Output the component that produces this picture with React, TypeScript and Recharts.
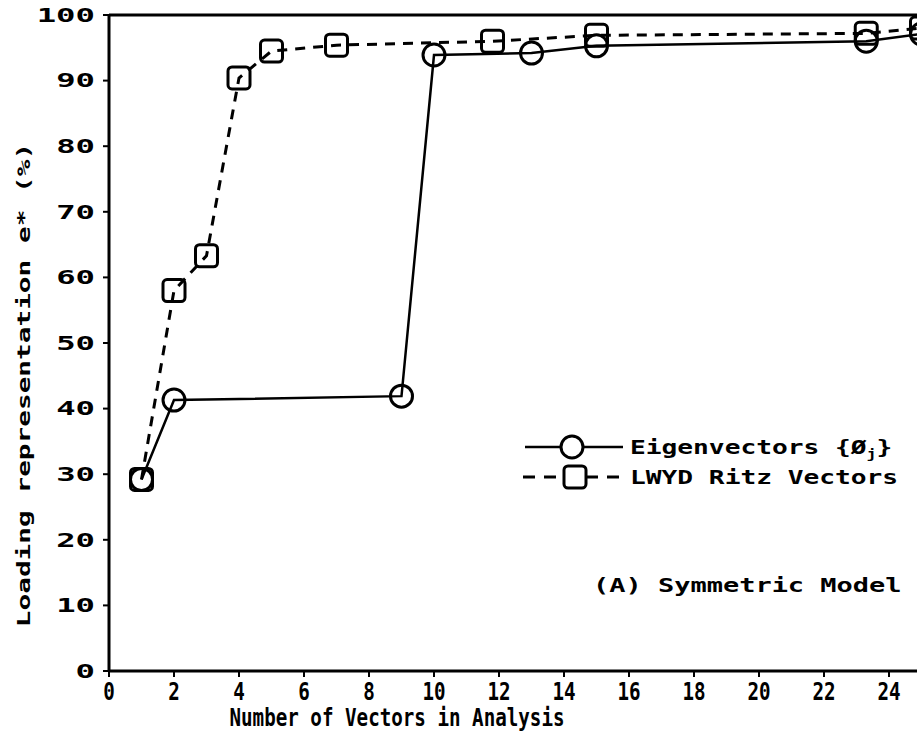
import { CartesianGrid, Legend, Line, LineChart, ReferenceLine, XAxis, YAxis } from 'recharts'

const eigenX = [1, 2, 9, 10, 13, 15, 23.3, 25]
const eigenY = [29.2, 41.3, 41.9, 93.9, 94.2, 95.3, 96.0, 97.1]
const ritzX = [1, 2, 3, 4, 5, 7, 11.8, 15, 23.3, 25]
const ritzY = [29.2, 58.0, 63.3, 90.4, 94.5, 95.4, 96.0, 96.9, 97.2, 98]
const xTicks = [0, 2, 4, 6, 8, 10, 12, 14, 16, 18, 20, 22, 24]
const yTicks = [0, 10, 20, 30, 40, 50, 60, 70, 80, 90, 100]

const eigenData = eigenX.map((x, i) => ({ x, y: eigenY[i] }))
const ritzData = ritzX.map((x, i) => ({ x, y: ritzY[i] }))

const FONT = '"DejaVu Sans Mono", monospace'
const INK = '#000'

function YTick(props: any) {
  const { x, y, payload } = props
  return (
    <g transform={`translate(${x},${y}) scale(1.7,1)`}>
      <text textAnchor="end" dy="0.36em" fontFamily={FONT} fontWeight="bold" fontSize={19} fill={INK}>
        {payload.value}
      </text>
    </g>
  )
}

function XTick(props: any) {
  const { x, y, payload } = props
  return (
    <g transform={`translate(${x},${y}) scale(0.8,1)`}>
      <text textAnchor="middle" dy="0.71em" fontFamily={FONT} fontWeight="bold" fontSize={24} fill={INK}>
        {payload.value}
      </text>
    </g>
  )
}

function XTitle() {
  return (
    <g transform="translate(397,726) scale(0.8,1)">
      <text textAnchor="middle" fontFamily={FONT} fontWeight="bold" fontSize={24} fill={INK}>
        Number of Vectors in Analysis
      </text>
    </g>
  )
}

function YTitle() {
  return (
    <g transform="translate(30,385) rotate(-90) scale(1.5,1)">
      <text textAnchor="middle" fontFamily={FONT} fontWeight="bold" fontSize={18.5} fill={INK}>
        Loading representation e* (%)
      </text>
    </g>
  )
}

const circleDot = (p: any) => (
  <circle key={`c${p.index}`} cx={p.cx} cy={p.cy} r={11} fill="none" stroke={INK} strokeWidth={3} />
)
const squareDot = (p: any) => (
  <rect
    key={`s${p.index}`}
    x={p.cx - 11}
    y={p.cy - 11}
    width={22}
    height={22}
    rx={4}
    fill="none"
    stroke={INK}
    strokeWidth={3}
  />
)

function LegendBox() {
  const txt = { fontFamily: FONT, fontWeight: 'bold' as const, fontSize: 19, fill: INK }
  return (
    <svg width={410} height={190} style={{ overflow: 'visible' }}>
      <line x1={10} y1={22} x2={108} y2={22} stroke={INK} strokeWidth={2.5} />
      <circle cx={57} cy={22} r={11} fill="#fff" stroke={INK} strokeWidth={3} />
      <g transform="translate(115,29) scale(1.38,1)">
        <text {...txt}>
          Eigenvectors {'{Ø'}
          <tspan fontSize={12} dy={4}>j</tspan>
          <tspan dy={-4}>{'}'}</tspan>
        </text>
      </g>
      <line x1={8} y1={52} x2={110} y2={52} stroke={INK} strokeWidth={3} strokeDasharray="12 9" />
      <rect x={49} y={41} width={22} height={22} rx={4} fill="#fff" stroke={INK} strokeWidth={3} />
      <g transform="translate(115,59) scale(1.38,1)">
        <text {...txt}>LWYD Ritz Vectors</text>
      </g>
      <g transform="translate(78,167) scale(1.42,1)">
        <text {...txt}>(A) Symmetric Model</text>
      </g>
    </svg>
  )
}

export default function App() {
  return (
    <div
      style={{
        position: 'absolute',
        left: 0,
        top: 0,
        width: 917,
        height: 748,
        overflow: 'hidden',
        background: '#fff',
      }}
    >
      <LineChart width={930} height={748} margin={{ top: 15, right: 8.5, bottom: 0, left: 0 }}>
        <CartesianGrid stroke="none" />
        <XAxis
          type="number"
          dataKey="x"
          domain={[0, 25]}
          ticks={xTicks}
          height={77}
          axisLine={{ stroke: INK, strokeWidth: 3 }}
          tickLine={{ stroke: INK, strokeWidth: 2 }}
          tickSize={6}
          tickMargin={6}
          tick={<XTick />}
          label={<XTitle />}
        />
        <YAxis
          type="number"
          dataKey="y"
          domain={[0, 100]}
          ticks={yTicks}
          width={109}
          axisLine={{ stroke: INK, strokeWidth: 3 }}
          tickLine={{ stroke: INK, strokeWidth: 2 }}
          tickSize={6}
          tickMargin={8}
          tick={<YTick />}
          label={<YTitle />}
        />
        <ReferenceLine y={100} stroke={INK} strokeWidth={3} />
        <Line
          data={eigenData}
          dataKey="y"
          type="linear"
          stroke={INK}
          strokeWidth={2.5}
          dot={circleDot}
          isAnimationActive={false}
        />
        <Line
          data={ritzData}
          dataKey="y"
          type="linear"
          stroke={INK}
          strokeWidth={3}
          strokeDasharray="10 8"
          dot={squareDot}
          isAnimationActive={false}
        />
        <Legend
          layout="horizontal"
          verticalAlign="middle"
          align="center"
          content={() => <LegendBox />}
          wrapperStyle={{ position: 'absolute', left: 515, top: 425, width: 410, height: 190 }}
        />
      </LineChart>
    </div>
  )
}
